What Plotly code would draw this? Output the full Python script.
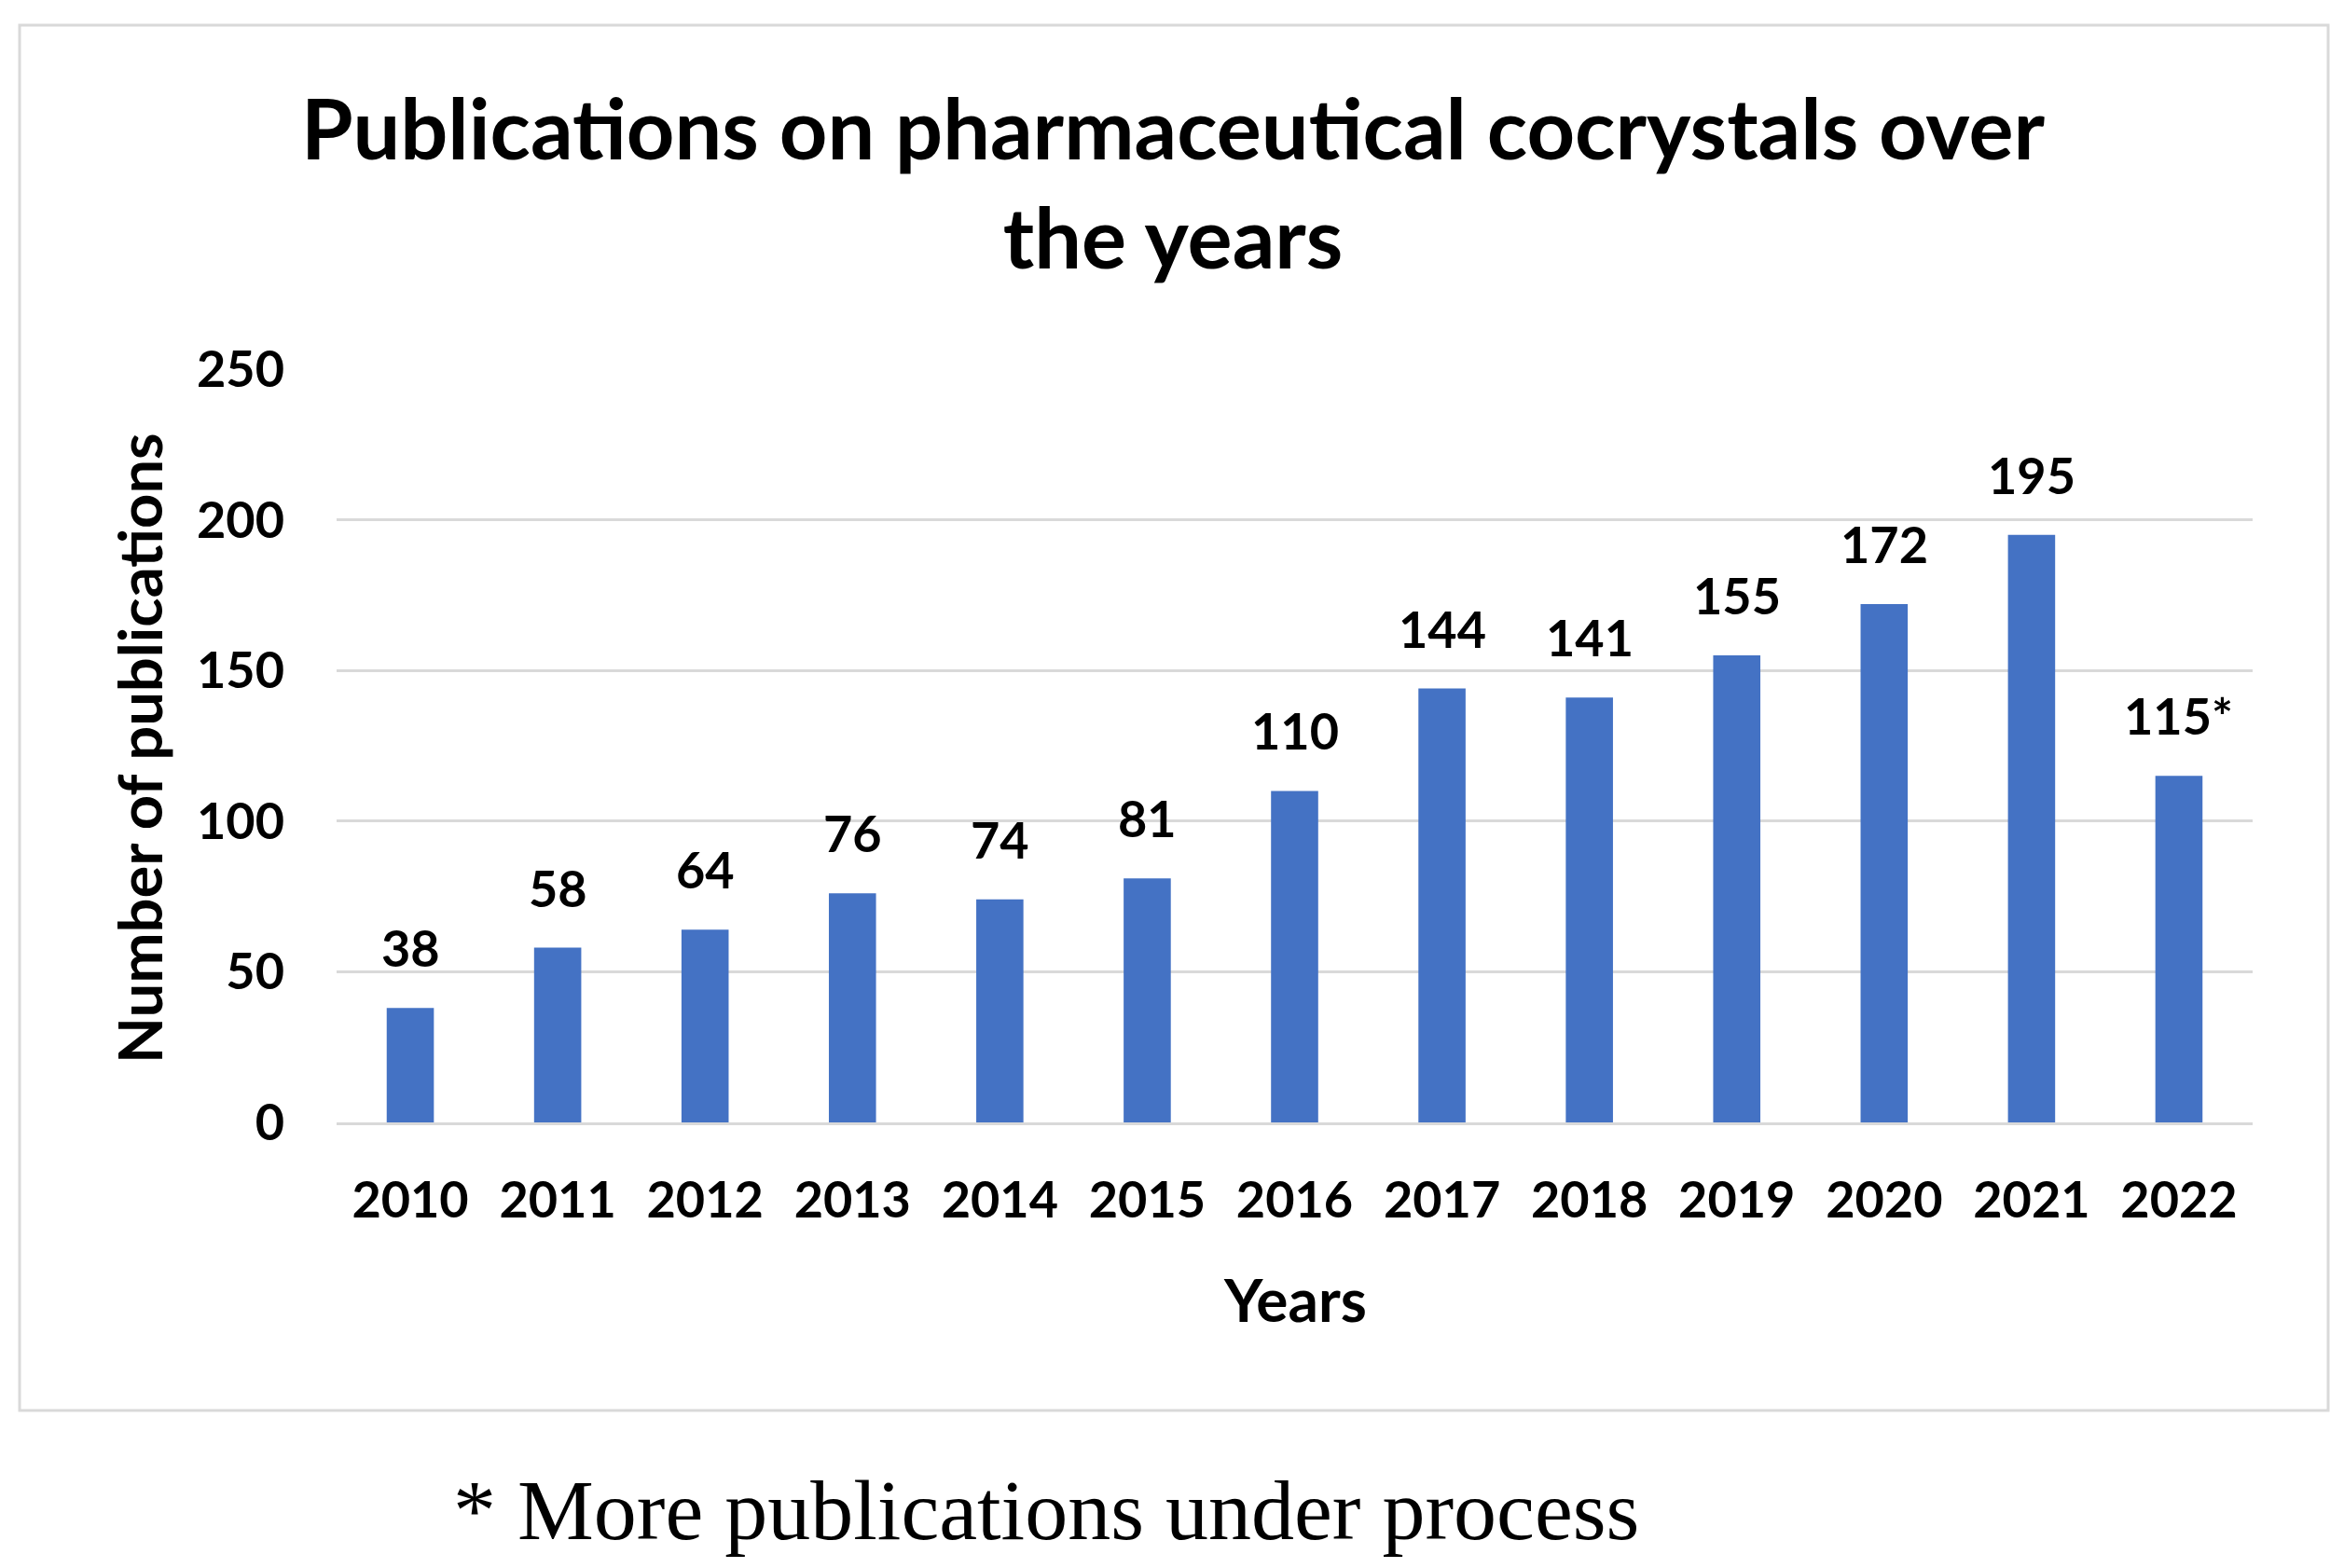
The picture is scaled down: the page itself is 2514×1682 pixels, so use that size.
import plotly.graph_objects as go

years = ["2010", "2011", "2012", "2013", "2014", "2015", "2016",
         "2017", "2018", "2019", "2020", "2021", "2022"]
publications = [38, 58, 64, 76, 74, 81, 110, 144, 141, 155, 172, 195, 115]
label_suffix = ["", "", "", "", "", "", "", "", "", "", "", "", "*"]
y_ticks = [0, 50, 100, 150, 200, 250]

title_text = "Publications on pharmaceutical cocrystals over<br>the years"
x_title = "Years"
y_title = "Number of publications"
footnote = "* More publications under process"

W, H = 2514, 1682
L, R, T, B = 353, 106, 388, 486
pw, ph = W - L - R, H - T - B

def px_x(p):
    return (p - L) / pw

def px_y(p):
    return (H - B - p) / ph

FONT = "Lato"
BLUE = "#4472C4"
GRID = "#D9D9D9"

fig = go.Figure()
fig.add_trace(go.Bar(
    x=list(range(len(years))), y=publications, marker_color=BLUE,
    marker_line_width=0, hoverinfo="skip",
))

annotations = []
for i, (v, suf) in enumerate(zip(publications, label_suffix)):
    annotations.append(dict(
        x=i, y=v, xref="x", yref="y", text=f"{v}{suf}", showarrow=False,
        yanchor="bottom", yshift=30,
        font=dict(family=FONT, size=54, color="#000000", weight="bold"),
    ))

annotations += [
    dict(x=0.5, y=px_y(1385), xref="paper", yref="paper", text=x_title,
         showarrow=False, yanchor="middle",
         font=dict(family=FONT, size=64, color="#000000", weight="bold")),
    dict(x=px_x(141), y=px_y(795), xref="paper", yref="paper", text=y_title,
         showarrow=False, textangle=-90, xanchor="center", yanchor="middle",
         font=dict(family=FONT, size=65, color="#000000", weight="bold")),
    dict(x=px_x(1114), y=px_y(1612), xref="paper", yref="paper", text=footnote,
         showarrow=False, xanchor="center", yanchor="middle",
         font=dict(family="Liberation Serif", size=92, color="#000000")),
]

fig.update_layout(
    width=W, height=H,
    margin=dict(l=L, r=R, t=T, b=B),
    paper_bgcolor="white", plot_bgcolor="white",
    bargap=0.68,
    showlegend=False,
    title=dict(text=title_text, x=1250 / W, xanchor="center",
               y=1 - 163 / H, yanchor="middle", yref="container",
               font=dict(family=FONT, size=90, color="#000000", weight="bold")),
    annotations=annotations,
    shapes=[dict(type="rect", xref="paper", yref="paper",
                 x0=px_x(13), x1=px_x(2489), y0=px_y(1505), y1=px_y(19),
                 line=dict(color=GRID, width=3), fillcolor="rgba(0,0,0,0)",
                 layer="below")],
)

fig.update_xaxes(
    range=[-0.5, len(years) - 0.5], tickvals=list(range(len(years))),
    ticktext=years, showgrid=False, showline=True, linecolor=GRID,
    linewidth=3, ticks="", ticklabelstandoff=34,
    tickfont=dict(family=FONT, size=54, color="#000000", weight="bold"),
)
fig.update_yaxes(
    range=[0, 250], tickvals=y_ticks, showgrid=True, gridcolor=GRID, gridwidth=3,
    zeroline=False, showline=False, ticks="", ticklabelstandoff=55,
    tickfont=dict(family=FONT, size=54, color="#000000", weight="bold"),
)

fig.write_html("out.html")
